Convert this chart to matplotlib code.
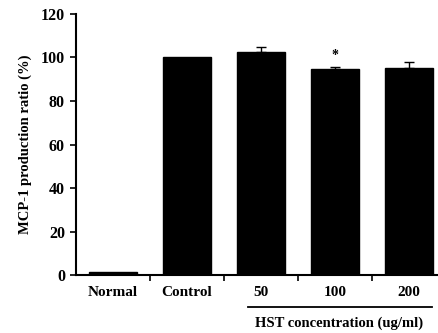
import matplotlib
matplotlib.use("Agg")
import matplotlib.pyplot as plt

# data
groups = ["Normal", "Control", "50", "100", "200"]
values = [1.2, 100, 102.5, 94.5, 95.3]
errors = [0, 0, 2.5, 1.3, 2.6]
signif = ["", "", "", "*", ""]

plt.rcParams["font.family"] = ["Liberation Serif", "DejaVu Serif"]
plt.rcParams["font.weight"] = "bold"

fig = plt.figure(figsize=(4.38, 3.33), dpi=100)
ax = fig.add_axes([0.1735, 0.174, 0.845, 0.784])

x = list(range(len(groups)))
ax.bar(x, values, width=0.65, color="black", edgecolor="black", zorder=2)
ax.errorbar(x[2:], values[2:], yerr=[[0] * 3, errors[2:]], fmt="none",
            ecolor="black", elinewidth=1, capsize=3.5, capthick=1, zorder=3)
for xi, v, e, s in zip(x, values, errors, signif):
    if s:
        ax.text(xi, v + e + 2, s, ha="center", va="bottom", fontsize=10)

ax.set_xlim(-0.5, 4.5)
ax.set_ylim(0, 120)
ax.set_yticks(range(0, 121, 20))
ax.set_xticks([i + 0.5 for i in range(4)])
ax.set_xticklabels([])
ax.set_xticks(x, minor=True)
ax.set_xticklabels(groups, minor=True, fontsize=11, fontweight="bold")
ax.tick_params(axis="x", which="minor", length=0, pad=8)
ax.tick_params(axis="x", which="major", direction="out", length=4, width=1.2)
ax.tick_params(axis="y", direction="out", length=4, width=1.2, labelsize=11.5, pad=4)
for lab in ax.get_yticklabels():
    lab.set_fontweight("bold")

for side in ["top", "right"]:
    ax.spines[side].set_visible(False)
for side in ["left", "bottom"]:
    ax.spines[side].set_linewidth(1.5)

ax.set_ylabel("MCP-1 production ratio (%)", fontsize=10.5, fontweight="bold", labelpad=6)

# group bracket under the concentration bars
tr = ax.get_xaxis_transform()
ax.plot([1.82, 4.31], [-0.123, -0.123], color="black", lw=1.3, transform=tr, clip_on=False)
ax.text(3.06, -0.185, "HST concentration (ug/ml)", transform=tr, ha="center", va="center",
        fontsize=10.5, fontweight="bold")

fig.savefig("out.png", dpi=100)
